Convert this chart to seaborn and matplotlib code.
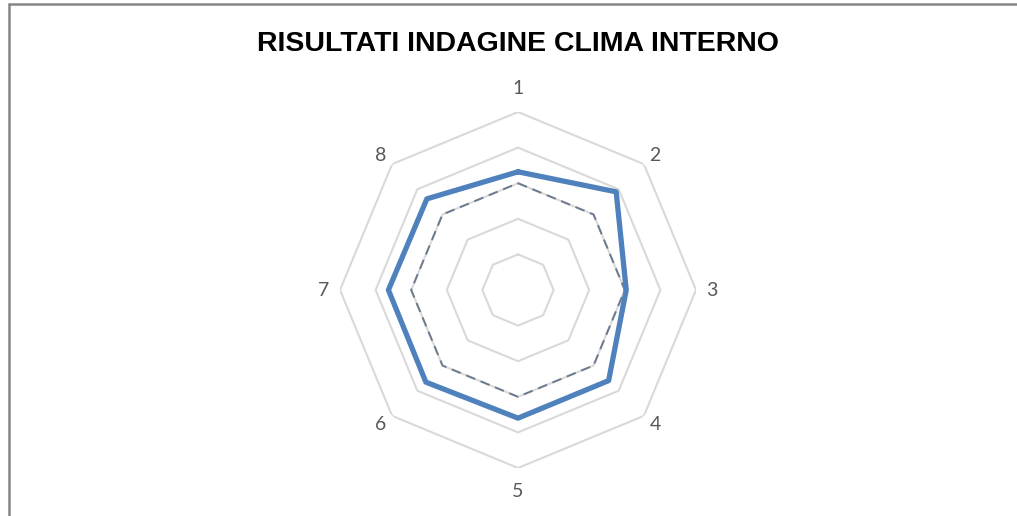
import numpy as np
import pandas as pd
import matplotlib
matplotlib.use("Agg")
import matplotlib.pyplot as plt
from matplotlib.lines import Line2D
import seaborn as sns

# data
categorie = ['1', '2', '3', '4', '5', '6', '7', '8']
risultati = [3.32, 3.9, 3.04, 3.6, 3.6, 3.66, 3.64, 3.62]
riferimento = [3, 3, 3, 3, 3, 3, 3, 3]
livelli = [1, 2, 3, 4, 5]

sns.set_style("white")
plt.rcParams['font.family'] = ['Lato', 'DejaVu Sans']

n = len(categorie)
theta = np.linspace(0, 2 * np.pi, n, endpoint=False)
theta_closed = np.append(theta, 2 * np.pi)

df = pd.DataFrame({
    'theta': np.concatenate([theta_closed, theta_closed]),
    'valore': risultati + risultati[:1] + riferimento + riferimento[:1],
    'serie': ['risultati'] * (n + 1) + ['riferimento'] * (n + 1),
})

W, H = 1017, 516
fig = plt.figure(figsize=(W / 100, H / 100), dpi=100)
cx, cy, R = 518, 290, 178
ax = fig.add_axes([(cx - R) / W, (H - cy - R) / H, 2 * R / W, 2 * R / H], projection='polar')
ax.set_theta_zero_location('N')
ax.set_theta_direction(-1)
ax.set_ylim(0, 5)
ax.grid(False)
ax.spines['polar'].set_visible(False)
ax.set_xticks([])
ax.set_yticks([])
ax.patch.set_alpha(0)

# octagonal grid rings
for lv in livelli:
    ax.plot(theta_closed, [lv] * (n + 1), color='#d9d9d9', lw=1.5, zorder=1)

rif = df[df['serie'] == 'riferimento']
ris = df[df['serie'] == 'risultati']
sns.lineplot(x=rif['theta'], y=rif['valore'], ax=ax, sort=False, color='#6b7a8f',
             lw=1.4, linestyle=(0, (5, 3)), zorder=2)
sns.lineplot(x=ris['theta'], y=ris['valore'], ax=ax, sort=False, color='#4f81bd',
             lw=3.8, zorder=3)
ax.set_xlabel('')
ax.set_ylabel('')

# category labels just outside the outer ring
for t, lab in zip(theta, categorie):
    dx = 16 * np.sin(t)
    dy = 24 * np.cos(t) ** 3
    ax.annotate(lab, xy=(t, 5), xytext=(dx * 0.72, dy * 0.72), textcoords='offset points',
                ha='center', va='center', fontsize=14, color='#595959')

fig.text(cx / W, 1 - 44 / H, 'RISULTATI INDAGINE CLIMA INTERNO', ha='center', va='center',
         fontsize=20.5, fontweight='bold', color='black', family=['Liberation Sans', 'DejaVu Sans'])

# frame border (left and top only, as in the cropped screenshot)
fig.add_artist(Line2D([9 / W, 9 / W], [0, 1 - 4 / H], transform=fig.transFigure, color='#868686', lw=1.8))
fig.add_artist(Line2D([9 / W, 1], [1 - 4 / H, 1 - 4 / H], transform=fig.transFigure, color='#868686', lw=1.8))

fig.savefig('out.png', dpi=100)
